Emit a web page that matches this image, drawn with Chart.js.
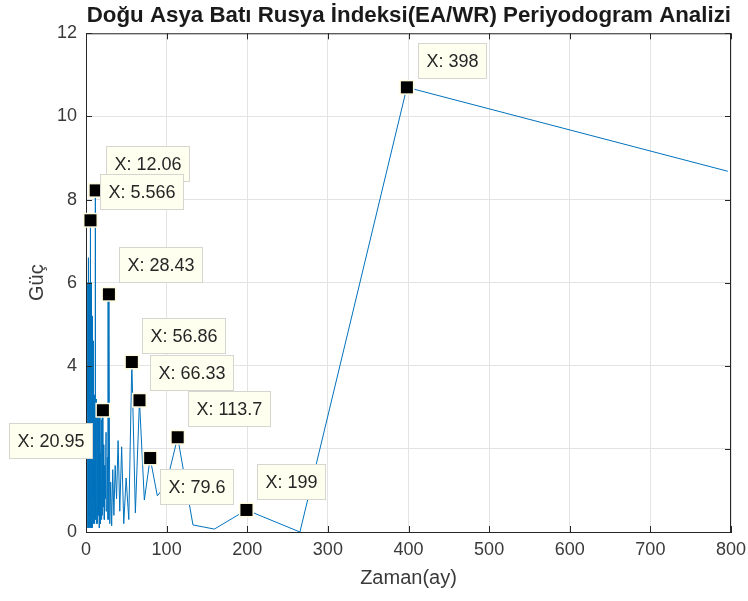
<!DOCTYPE html>
<html>
<head>
<meta charset="utf-8">
<script src="https://cdn.jsdelivr.net/npm/chart.js@4.4.0/dist/chart.umd.min.js"></script>
<style>
    html, body { margin: 0; padding: 0; background: #fff; }
</style>
</head>
<body>
<canvas id="myChart" width="748" height="601"></canvas>
<script>
// series length: periods are N / k for k = 1..398
const N = 796;

// power for k = 1, 2, 3 ... 398
const power = [
    8.68, 10.70, 0.0, 0.53, 0.07, 0.17, 2.28, 1.14, 0.87, 1.78,
    0.77, 3.17, 0.46, 4.09, 0.3, 1.3, 0.2, 2.05, 0.5, 2.2,
    0.8, 1.6, 0.4, 1.5, 0.15, 1.2, 0.2, 5.72, 0.3, 1.8,
    0.5, 2.4, 0.8, 1.6, 0.3, 2.1, 0.6, 2.93, 0.4, 2.6,
    0.3, 2.7, 0.9, 1.9, 0.2, 3.1, 0.6, 2.2, 0.1, 2.8,
    1.0, 3.0, 0.4, 1.7, 0.2, 2.9, 0.8, 2.4, 0.3, 3.2,
    1.1, 2.0, 0.2, 2.6, 0.5, 8.22,
    0.4, 2.8, 1.2, 3.0, 0.3, 2.5, 0.9, 3.3, 0.2, 2.1, 1.4, 3.1, 0.6, 2.7,
    0.3, 3.6, 1.0, 4.6, 0.2, 2.9, 1.5, 4.4, 0.5, 3.2,
    0.8, 3.9, 0.1, 2.6, 1.3, 3.5, 0.4, 4.1, 0.9, 2.8,
    0.2, 3.7, 1.1, 4.2, 0.6,
    5.2, 0.3, 4.6, 1.4, 5.8, 0.2, 3.9, 0.9, 5.5, 0.1,
    4.8, 1.7, 6.0, 0.4, 3.6, 0.8, 5.1, 0.2, 5.9, 1.2,
    4.3, 0.3, 5.6, 0.7, 4.9, 0.1, 5.7, 1.5, 3.8, 0.4,
    6.0, 0.9, 4.5, 0.2, 5.3, 1.0, 4.1,
    7.5,
    0.3, 5.9, 1.1, 4.7, 0.2, 5.6, 0.8, 3.9, 0.1, 6.0,
    1.4, 4.4, 0.5, 5.2, 0.2, 4.8, 7.0,
    0.4, 5.5, 1.0, 4.2, 0.1, 5.8, 0.7, 3.7, 0.3, 6.0,
    1.3, 4.9, 0.2, 5.4, 0.9, 4.0, 0.1, 5.9, 1.6, 4.6,
    0.3, 5.1, 0.6, 5.7, 0.2, 3.8, 1.2, 6.0, 0.4, 4.5,
    0.8, 5.3, 0.1, 5.6, 1.0, 4.3, 0.2, 5.9, 0.7, 4.8,
    0.3, 5.5, 1.1, 4.1, 0.2, 5.8, 0.6, 4.7, 0.1, 6.0,
    1.4, 3.9, 0.4, 5.3, 0.9, 4.4, 0.2, 5.7, 1.2, 3.6,
    0.1, 5.9, 0.7, 4.9, 0.3, 5.2, 1.5, 4.0, 0.2, 5.6,
    0.8, 4.6, 0.1, 6.0, 1.0, 3.8, 0.4, 5.4, 0.6, 4.3,
    6.6, 0.2, 5.1, 1.3, 4.5, 0.1, 5.9, 0.9, 3.7, 0.3,
    5.6, 1.1, 4.8, 0.2, 5.3, 0.7, 4.2, 0.1, 6.0, 1.6,
    3.9, 0.4, 5.5, 0.8, 4.6, 0.2, 5.8, 1.2, 4.0, 0.1,
    5.2, 0.6, 4.9, 0.3, 5.7, 1.4, 3.6, 0.2, 5.9, 0.9,
    4.4, 0.1, 5.4, 1.0, 4.7, 0.3, 6.0, 0.5, 3.8, 0.2,
    5.6, 1.3, 4.1, 0.1, 5.1, 0.8, 4.8, 0.4, 5.8, 1.1,
    3.7, 0.2, 5.5, 0.6, 4.3, 0.1, 5.9, 1.5, 4.6, 0.3,
    5.2, 0.9, 3.9, 0.2, 5.7, 1.2, 4.5, 0.1, 6.0, 0.7,
    4.0, 0.3, 5.3, 1.0, 4.8, 0.2, 5.6, 0.5, 3.6, 0.1,
    5.9, 1.4, 4.2, 0.4, 5.4, 0.8, 4.7, 0.2, 5.8, 1.1,
    3.8, 0.1, 5.1, 0.6, 4.4, 0.3, 6.0, 1.3, 4.9, 0.2,
    5.5, 0.9, 3.7, 0.1, 5.7, 1.2, 4.3, 0.4, 5.3, 0.7,
    4.6, 0.2, 5.9, 1.0, 4.0, 0.1, 5.2, 0.5, 4.8, 0.3,
    5.6, 1.5, 3.9, 0.2, 6.0, 0.8, 4.5, 0.1, 5.4, 1.1,
    4.1, 0.3, 5.8, 0.6, 4.7, 0.2, 5.0, 0.9, 3.6, 0.1,
    5.5, 1.2, 4.4, 0.3, 5.9, 0.7, 4.2, 2.9
];

const periods = power.map((_, i) => N / (i + 1));

const xTicks = [0, 100, 200, 300, 400, 500, 600, 700, 800];
const yTicks = [0, 2, 4, 6, 8, 10, 12];

// data tips (k index), drawn in this order
const tipIndex = [2, 66, 143, 28, 14, 12, 7, 10, 4, 38];
// box top-left relative to the marker
const tipOffset = [[11, -44], [10, -44], [10, -46], [10, -47], [10, -44], [11, -45], [10, -46], [10, 11], [11, -46], [-94, 13]];

const FONT = '"Liberation Sans", Arial, Helvetica, sans-serif';
const AXIS = '#262626';

const matlabBox = {
    id: 'matlabBox',
    afterDraw(chart) {
        const {ctx, chartArea: a, scales: {x, y}} = chart;
        ctx.save();
        ctx.strokeStyle = AXIS;
        ctx.lineWidth = 1;
        ctx.beginPath();
        ctx.moveTo(a.left, a.top + 0.5);
        ctx.lineTo(a.right, a.top + 0.5);
        ctx.moveTo(a.right - 0.5, a.top);
        ctx.lineTo(a.right - 0.5, a.bottom);
        xTicks.forEach(v => {
            const px = Math.round(x.getPixelForValue(v)) + 0.5;
            ctx.moveTo(px, a.bottom);
            ctx.lineTo(px, a.bottom - 6);
            ctx.moveTo(px, a.top);
            ctx.lineTo(px, a.top + 6);
        });
        yTicks.forEach(v => {
            const py = Math.round(y.getPixelForValue(v)) + 0.5;
            ctx.moveTo(a.left, py);
            ctx.lineTo(a.left + 6, py);
            ctx.moveTo(a.right, py);
            ctx.lineTo(a.right - 6, py);
        });
        ctx.stroke();

        ctx.font = '18px ' + FONT;
        ctx.textBaseline = 'middle';
        tipIndex.forEach((k, i) => {
            const p = N / k;
            const px = x.getPixelForValue(p);
            const py = y.getPixelForValue(power[k - 1]);
            const label = 'X: ' + Number(p.toPrecision(4));
            const w = Math.round(ctx.measureText(label).width + 16);
            const h = 35;
            const bx = Math.round(px + tipOffset[i][0]) + 0.5;
            const by = Math.round(py + tipOffset[i][1]) + 0.5;
            ctx.fillStyle = '#fffff0';
            ctx.fillRect(bx, by, w, h);
            ctx.strokeStyle = '#d6d6d0';
            ctx.strokeRect(bx, by, w, h);
            ctx.fillStyle = '#262626';
            ctx.fillText(label, bx + 8, by + h / 2 + 1);

            ctx.fillStyle = '#fffbe0';
            ctx.fillRect(px - 7.5, py - 7.5, 15, 15);
            ctx.fillStyle = '#000';
            ctx.fillRect(px - 6, py - 6, 12, 12);
        });
        ctx.restore();
    }
};

new Chart(document.getElementById('myChart'), {
    type: 'scatter',
    data: {
        datasets: [{
            data: periods.map((p, i) => ({x: p, y: power[i]})),
            showLine: true,
            borderColor: '#0072BD',
            borderWidth: 1,
            pointRadius: 0,
            tension: 0
        }]
    },
    options: {
        responsive: false,
        animation: false,
        layout: {padding: {left: 0, right: 17, top: 0, bottom: 0}},
        plugins: {
            legend: {display: false},
            tooltip: {enabled: false},
            title: {
                display: true,
                align: 'end',
                text: 'Doğu Asya Batı Rusya İndeksi(EA/WR) Periyodogram Analizi',
                color: '#1a1a1a',
                font: {family: FONT, size: 22.3, weight: 'bold', lineHeight: 1},
                padding: {top: 5, bottom: 6}
            }
        },
        scales: {
            x: {
                type: 'linear',
                min: 0,
                max: 800,
                afterBuildTicks: s => { s.ticks = xTicks.map(v => ({value: v})); },
                afterFit: s => { s.height = 69; s.paddingRight = 0; s.paddingLeft = 0; },
                grid: {color: '#e3e3e3', drawTicks: false},
                border: {display: true, color: AXIS},
                ticks: {padding: 7, color: '#3a3a3a', font: {family: FONT, size: 18}, maxRotation: 0},
                title: {
                    display: true,
                    text: 'Zaman(ay)',
                    color: '#3a3a3a',
                    font: {family: FONT, size: 20},
                    padding: {top: 0, bottom: 11}
                }
            },
            y: {
                min: 0,
                max: 12,
                afterBuildTicks: s => { s.ticks = yTicks.map(v => ({value: v})); },
                afterFit: s => { s.width = 86; s.paddingTop = 0; s.paddingBottom = 0; },
                grid: {color: '#e3e3e3', drawTicks: false},
                border: {display: true, color: AXIS},
                ticks: {padding: 9, color: '#3a3a3a', font: {family: FONT, size: 18}},
                title: {
                    display: true,
                    text: 'Güç',
                    color: '#3a3a3a',
                    font: {family: FONT, size: 20},
                    padding: {top: 25, bottom: 0}
                }
            }
        }
    },
    plugins: [matlabBox]
});
</script>
</body>
</html>
